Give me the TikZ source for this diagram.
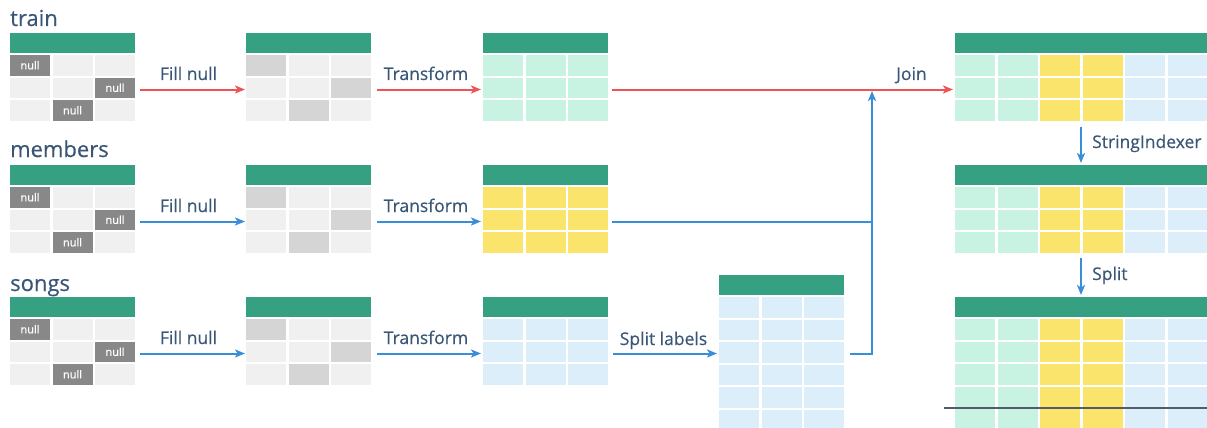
\documentclass[tikz,border=0pt]{standalone}
\usepackage{fontspec}
\setmainfont{Open Sans}
\newfontfamily\heavyfont[FakeBold=0.35]{Open Sans}
\usetikzlibrary{arrows.meta}

\definecolor{hdr}{HTML}{36A083}
\definecolor{gc}{HTML}{C8F2E1}
\definecolor{yc}{HTML}{FAE46C}
\definecolor{bc}{HTML}{DDEEFB}
\definecolor{lg}{HTML}{F0F0F0}
\definecolor{mg}{HTML}{D5D5D5}
\definecolor{nl}{HTML}{888888}
\definecolor{redln}{HTML}{EE5454}
\definecolor{blueln}{HTML}{3A8DD8}
\definecolor{txt}{HTML}{3A5676}
\definecolor{rule}{HTML}{505C68}

% table: name, left, top, columns, rows, cell colours (row by row)
\newcommand\mktable[6]{%
  \pgfmathsetmacro\tw{42.5*#4-2.5}%
  \pgfmathsetmacro\th{20+22.5*#5}%
  \node[tblbox, minimum width=\tw pt, minimum height=\th pt] (#1) at (#2,#3) {};
  \fill[hdr] (#2,#3) rectangle ++(\tw,20);
  \foreach \c [count=\i from 0] in {#6} {%
    \pgfmathtruncatemacro\rr{\i/#4}%
    \pgfmathtruncatemacro\kk{mod(\i,#4)}%
    \fill[\c] ({#2+\kk*42.5},{#3+22+\rr*22.5}) rectangle ++(40,20.5);
  }%
}

\begin{document}
\begin{tikzpicture}[x=1pt,y=-1pt,
  tblbox/.style={anchor=north west, inner sep=0pt, outer sep=0pt, draw=none},
  title/.style={anchor=base west, inner sep=0pt, text=txt, font=\heavyfont\fontsize{22}{26}\selectfont},
  lbl/.style={anchor=base, inner sep=0pt, text=txt, font=\heavyfont\fontsize{17.5}{20}\selectfont},
  nulltxt/.style={inner sep=0pt, text=white, font=\heavyfont\fontsize{11}{13}\selectfont},
  arr/.style={line width=2pt, -{Stealth[length=10pt,width=8pt,inset=2.5pt]}},
  redarr/.style={arr, draw=redln},
  bluearr/.style={arr, draw=blueln},
  blueline/.style={line width=2pt, draw=blueln},
]
\clip (0,0) rectangle (1207,428);
\fill[white] (0,0) rectangle (1207,428);

% arrow levels
\coordinate (ytr) at (0,89.5);
\coordinate (yme) at (0,221.5);
\coordinate (yso) at (0,353.5);
\coordinate (jx) at (872,0);

% titles
\node[title] (ttrain) at (10,26) {train};
\node[title] (tmembers) at (10,157) {members};
\node[title] (tsongs) at (10,291) {songs};

% raw tables with nulls
\mktable{trA}{10}{33}{3}{3}{nl,lg,lg,lg,lg,nl,lg,nl,lg}
\mktable{meA}{10}{165}{3}{3}{nl,lg,lg,lg,lg,nl,lg,nl,lg}
\mktable{soA}{10}{297}{3}{3}{nl,lg,lg,lg,lg,nl,lg,nl,lg}
\foreach \dy/\p in {0/tr,132/me,264/so} {
  \node[nulltxt] (\p n1) at (30,65.25+\dy) {null};
  \node[nulltxt] (\p n2) at (115,87.75+\dy) {null};
  \node[nulltxt] (\p n3) at (72.5,110.25+\dy) {null};
}

% filled tables
\mktable{trB}{246}{33}{3}{3}{mg,lg,lg,lg,lg,mg,lg,mg,lg}
\mktable{meB}{246}{165}{3}{3}{mg,lg,lg,lg,lg,mg,lg,mg,lg}
\mktable{soB}{246}{297}{3}{3}{mg,lg,lg,lg,lg,mg,lg,mg,lg}

% transformed tables
\mktable{trC}{483}{33}{3}{3}{gc,gc,gc,gc,gc,gc,gc,gc,gc}
\mktable{meC}{483}{165}{3}{3}{yc,yc,yc,yc,yc,yc,yc,yc,yc}
\mktable{soC}{483}{297}{3}{3}{bc,bc,bc,bc,bc,bc,bc,bc,bc}

% split labels table
\mktable{soD}{719}{275}{3}{6}{bc,bc,bc,bc,bc,bc,bc,bc,bc,bc,bc,bc,bc,bc,bc,bc,bc,bc}

% joined tables
\mktable{jA}{955}{33}{6}{3}{gc,gc,yc,yc,bc,bc,gc,gc,yc,yc,bc,bc,gc,gc,yc,yc,bc,bc}
\mktable{jB}{955}{165}{6}{3}{gc,gc,yc,yc,bc,bc,gc,gc,yc,yc,bc,bc,gc,gc,yc,yc,bc,bc}
\mktable{jC}{955}{297}{6}{5}{gc,gc,yc,yc,bc,bc,gc,gc,yc,yc,bc,bc,gc,gc,yc,yc,bc,bc,gc,gc,yc,yc,bc,bc,gc,gc,yc,yc,bc,bc}
\coordinate (cutL) at (944,408);
\draw[rule, line width=1.5pt] (cutL) -- (cutL -| jC.east);

% train row
\draw[redarr] ([xshift=5pt]trA.east |- ytr) -- ([xshift=-1pt]trB.west |- ytr);
\draw[redarr] ([xshift=6pt]trB.east |- ytr) -- ([xshift=-2pt]trC.west |- ytr);
\draw[redarr] ([xshift=4pt]trC.east |- ytr) -- ([xshift=-2pt]jA.west |- ytr);

% members row
\draw[bluearr] ([xshift=5pt]meA.east |- yme) -- ([xshift=-1pt]meB.west |- yme);
\draw[bluearr] ([xshift=6pt]meB.east |- yme) -- ([xshift=-2pt]meC.west |- yme);
\draw[blueline] ([xshift=4pt]meC.east |- yme) -- (jx |- yme);

% songs row
\draw[bluearr] ([xshift=5pt]soA.east |- yso) -- ([xshift=-1pt]soB.west |- yso);
\draw[bluearr] ([xshift=6pt]soB.east |- yso) -- ([xshift=-2pt]soC.west |- yso);
\draw[bluearr] ([xshift=5pt]soC.east |- yso) -- ([xshift=-2pt]soD.west |- yso);
\coordinate (jtop) at (872,91);
\draw[bluearr] ([xshift=6pt]soD.east |- yso) -| (jtop);

% vertical steps on the right
\coordinate (vx) at (1081,0);
\draw[bluearr] ([yshift=-6pt]vx |- jA.south) -- ([yshift=2pt]vx |- jB.north);
\draw[bluearr] ([yshift=-5pt]vx |- jB.south) -- ([yshift=2pt]vx |- jC.north);

% step labels
\node[lbl] (lf1) at (188.5,80) {Fill null};
\node[lbl] (lf2) at (188.5,212) {Fill null};
\node[lbl] (lf3) at (188.5,344) {Fill null};
\node[lbl] (lt1) at (426,80) {Transform};
\node[lbl] (lt2) at (426,212) {Transform};
\node[lbl] (lt3) at (426,344) {Transform};
\node[lbl] (lsl) at (663.5,345) {Split labels};
\node[lbl] (ljn) at (911.5,80) {Join};
\node[lbl, anchor=base west] (lsi) at (1092,148) {StringIndexer};
\node[lbl, anchor=base west] (lsp) at (1092,280) {Split};
\end{tikzpicture}
\end{document}
